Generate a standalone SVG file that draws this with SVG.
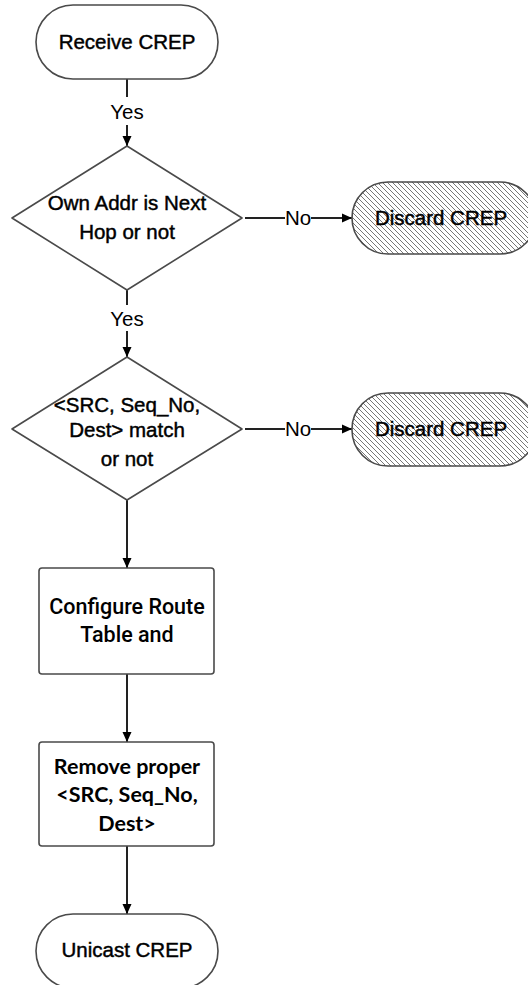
<svg xmlns="http://www.w3.org/2000/svg" width="528" height="985" viewBox="0 0 528 985">
<style>
.shape{fill:#fff;stroke:#4a4a4a;stroke-width:1.6;stroke-linejoin:round}
.hatch{fill:url(#hatch);stroke:#4a4a4a;stroke-width:1.6}
.t{font-family:"Liberation Sans",Arial,sans-serif;font-size:20.5px;fill:#000;stroke:#000;stroke-width:0.45;text-anchor:middle}
.t2{font-family:Roboto,"Liberation Sans",sans-serif;font-weight:500;font-size:21.5px;fill:#000;text-anchor:middle}
.t3{font-family:Lato,"Liberation Sans",sans-serif;font-weight:700;font-size:21.5px;fill:#000;text-anchor:middle}
.lbl{font-family:"Liberation Sans",Arial,sans-serif;font-size:20.5px;fill:#000;text-anchor:middle}
.ln{stroke:#222;stroke-width:2;fill:none}
.arr{stroke:#222;stroke-width:2;fill:none;marker-end:url(#ah)}
</style>
<defs>
<marker id="ah" viewBox="0 0 10 10" refX="10" refY="5" markerWidth="10" markerHeight="10" markerUnits="userSpaceOnUse" orient="auto">
<path d="M0,0.5 L10,5 L0,9.5 Z" fill="#000"/>
</marker>
<pattern id="hatch" patternUnits="userSpaceOnUse" width="5" height="5">
<rect width="5" height="5" fill="#fff"/>
<path d="M0,0 L5,5 M-1,4 L1,6 M4,-1 L6,1" stroke="#777" stroke-width="1"/>
</pattern>
</defs>

<g id="connectors">
<line class="ln" x1="127" y1="79" x2="127" y2="97"/>
<text class="lbl" x="127" y="119">Yes</text>
<line class="arr" x1="127" y1="125" x2="127" y2="146"/>

<line class="ln" x1="245" y1="218" x2="285" y2="218"/>
<text class="lbl" x="298" y="225">No</text>
<line class="arr" x1="311" y1="218" x2="352" y2="218"/>

<line class="ln" x1="127" y1="290" x2="127" y2="305"/>
<text class="lbl" x="127" y="326">Yes</text>
<line class="arr" x1="127" y1="331" x2="127" y2="357"/>

<line class="ln" x1="245" y1="429" x2="285" y2="429"/>
<text class="lbl" x="298" y="436">No</text>
<line class="arr" x1="311" y1="429" x2="352" y2="429"/>

<line class="arr" x1="127" y1="500" x2="127" y2="568"/>
<line class="arr" x1="127" y1="674" x2="127" y2="742"/>
<line class="arr" x1="127" y1="846" x2="127" y2="914"/>
</g>

<g id="receive">
<rect class="shape" x="36" y="5" width="182" height="74" rx="37" ry="37"/>
<text class="t" x="127" y="49">Receive CREP</text>
</g>

<g id="decision1">
<polygon class="shape" points="127,146 242,218 127,290 12,218"/>
<text class="t" x="127" y="210">Own Addr is Next</text>
<text class="t" x="127" y="239">Hop or not</text>
</g>

<g id="discard1">
<rect class="hatch" x="352" y="182" width="184" height="72" rx="36" ry="36"/>
<text class="t" x="441" y="225">Discard CREP</text>
</g>

<g id="decision2">
<polygon class="shape" points="127,357 242,429 127,500 12,429"/>
<text class="t" x="127" y="412">&lt;SRC, Seq_No,</text>
<text class="t" x="127" y="437">Dest&gt; match</text>
<text class="t" x="127" y="466">or not</text>
</g>

<g id="discard2">
<rect class="hatch" x="352" y="393" width="184" height="73" rx="36" ry="36"/>
<text class="t" x="441" y="436">Discard CREP</text>
</g>

<g id="configure">
<rect class="shape" x="39" y="568" width="175" height="106" rx="3" ry="3"/>
<text class="t2" x="127" y="614">Configure Route</text>
<text class="t2" x="127" y="642">Table and</text>
</g>

<g id="remove">
<rect class="shape" x="39" y="742" width="175" height="104" rx="3" ry="3"/>
<text class="t3" x="127" y="774">Remove proper</text>
<text class="t3" x="127" y="802">&lt;SRC, Seq_No,</text>
<text class="t3" x="127" y="831">Dest&gt;</text>
</g>

<g id="unicast">
<rect class="shape" x="36" y="914" width="182" height="74" rx="37" ry="37"/>
<text class="t" x="127" y="957">Unicast CREP</text>
</g>
</svg>
